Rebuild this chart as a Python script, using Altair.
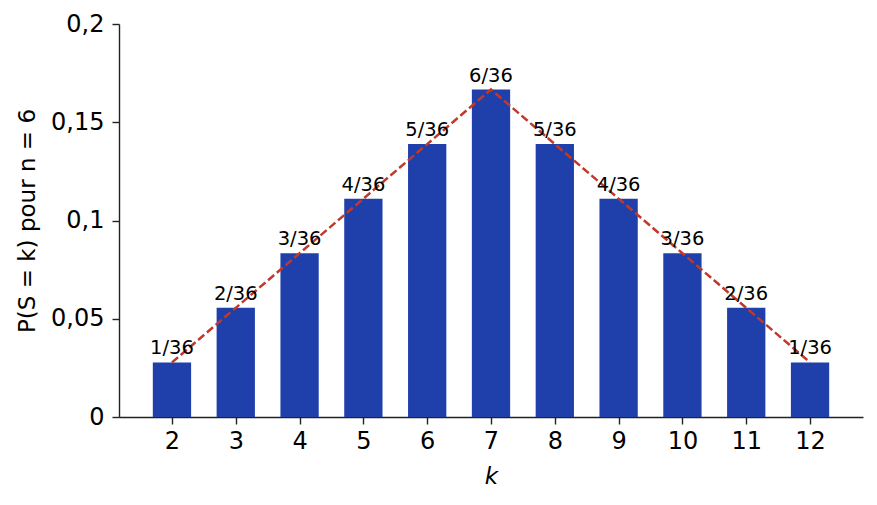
import altair as alt
import pandas as pd

ks = [2, 3, 4, 5, 6, 7, 8, 9, 10, 11, 12]
counts = [1, 2, 3, 4, 5, 6, 5, 4, 3, 2, 1]
labels = [f"{c}/36" for c in counts]
probs = [c / 36 for c in counts]
y_ticks = [0, 0.05, 0.1, 0.15, 0.2]

df = pd.DataFrame({"k": ks, "p": probs, "label": labels})
df["k0"] = df["k"] - 0.3
df["k1"] = df["k"] + 0.3

xscale = alt.Scale(domain=[1.17, 12.83], nice=False, zero=False)
yscale = alt.Scale(domain=[0, 0.2], nice=False)

FONT = "DejaVu Sans"

base = alt.Chart(df)

bars = base.mark_bar(color="#1F3FAA").encode(
    x=alt.X("k0:Q", scale=xscale,
            axis=alt.Axis(values=ks, format="d", title="k", titleFontStyle="italic")),
    x2="k1:Q",
    y=alt.Y("p:Q", scale=yscale,
            axis=alt.Axis(values=y_ticks,
                          labelExpr="replace(format(datum.value, '~g'), '.', ',')",
                          title="P(S = k) pour n = 6")),
    y2=alt.datum(0),
)

line = base.mark_line(color="#C0392B", strokeDash=[8, 3.5], strokeWidth=2.5).encode(
    x=alt.X("k:Q", scale=xscale),
    y=alt.Y("p:Q", scale=yscale),
)

text = base.mark_text(baseline="bottom", dy=-4, fontSize=19.5, font=FONT, color="black").encode(
    x=alt.X("k:Q", scale=xscale),
    y=alt.Y("p:Q", scale=yscale),
    text="label:N",
)

chart = (bars + line + text).properties(
    width=744, height=393,
    autosize=alt.AutoSizeParams(type="none"),
    padding={"left": 111, "top": 16, "right": 6, "bottom": 80},
).configure(background="white").configure_view(stroke=None).configure_axis(
    labelFont=FONT, titleFont=FONT, labelFontSize=24, titleFontSize=23,
    titleFontWeight="normal", labelColor="black", titleColor="black",
    domainColor="#222222", tickColor="#222222", tickSize=7, grid=False,
    domainWidth=1.4, tickWidth=1.4,
).configure_axisX(titlePadding=12, labelPadding=5).configure_axisY(titlePadding=11, labelPadding=8)

chart.save("out.html", embed_options={"renderer": "svg", "actions": False})
